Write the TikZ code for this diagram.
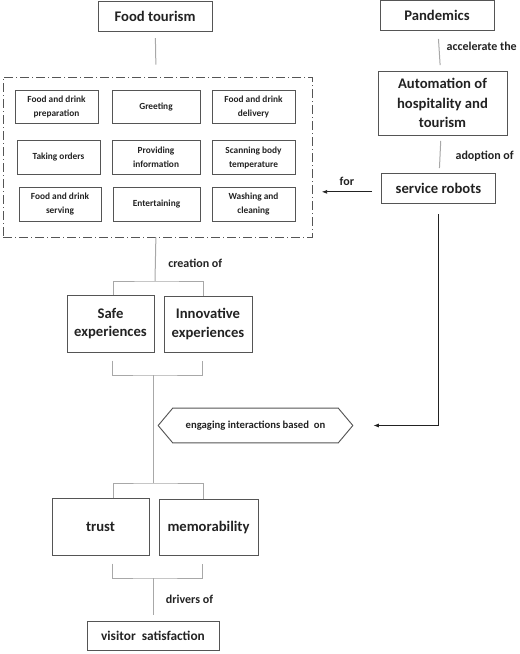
\documentclass[tikz,border=0pt]{standalone}
\usepackage{fontspec}
\setmainfont{Carlito}
\usetikzlibrary{positioning,calc,shapes.symbols,arrows.meta}

\definecolor{boxgray}{HTML}{555555}
\definecolor{linegray}{HTML}{A8A8A8}
\definecolor{txt}{HTML}{222222}

\begin{document}
\begin{tikzpicture}[x=0.75pt, y=-0.75pt,
  box/.style={draw=boxgray, line width=0.75pt, text=txt, font=\bfseries\fontsize{11}{14}\selectfont, align=center, inner sep=1pt},
  task/.style={draw=boxgray, line width=0.6pt, text=txt, font=\bfseries\fontsize{7}{10.5}\selectfont, align=center, inner sep=1pt, minimum height=25pt},
  link/.style={draw=linegray, line width=0.75pt},
  lab/.style={text=txt, font=\bfseries\fontsize{9}{11}\selectfont},
  arr/.style={draw=txt, line width=0.6pt, -{Latex[length=4pt,width=3pt]}}]

  \useasboundingbox (0,0) rectangle (520,654);

  % top row
  \node[box, minimum width=85.5pt, minimum height=22.5pt] (food) at (155,16) {Food tourism};
  \node[box, minimum width=85.5pt, minimum height=22.5pt] (pandemics) at (437,15.5) {Pandemics};
  \node[box, minimum width=96.75pt, minimum height=48pt, font=\bfseries\fontsize{11}{14.6}\selectfont] (automation) at (442.5,103) {Automation of\\hospitality and\\tourism};
  \node[box, minimum width=85pt, minimum height=22pt] (robots) at (438.5,188.5) {service robots};

  % service tasks
  \node[draw=boxgray, line width=0.7pt, dash pattern=on 7pt off 2pt on 1pt off 2pt, minimum width=231.75pt, minimum height=120pt] (tasks) at (157.5,157) {};
  \node[task, minimum width=62.25pt] (prep) at (56.5,107) {Food and drink\\preparation};
  \node[task, minimum width=66pt] (greet) at (156,107) {Greeting};
  \node[task, minimum width=62.25pt] (deliv) at (253.5,107) {Food and drink\\delivery};
  \node[task, minimum width=62.25pt] (orders) at (58.5,157.5) {Taking orders};
  \node[task, minimum width=66pt] (info) at (156,157.5) {Providing\\information};
  \node[task, minimum width=62.25pt] (temp) at (253.5,157.5) {Scanning body\\temperature};
  \node[task, minimum width=61.5pt] (serve) at (60,204.5) {Food and drink\\serving};
  \node[task, minimum width=65.25pt] (enter) at (156.5,204.5) {Entertaining};
  \node[task, minimum width=62.25pt] (wash) at (253.5,204.5) {Washing and\\cleaning};

  % experiences
  \node[box, minimum width=65.25pt, minimum height=42.75pt] (safe) at (110.5,323.5) {Safe\\experiences};
  \node[box, minimum width=66pt, minimum height=42pt] (innov) at (208,324) {Innovative\\experiences};

  \node[signal, signal to=west and east, signal pointer angle=100, draw=boxgray, line width=0.7pt, text=txt, font=\bfseries\fontsize{8}{10}\selectfont, minimum width=146pt, minimum height=26pt, inner sep=1pt] (engage) at (255.5,425.5) {engaging interactions based\ \ on};

  \node[box, minimum width=72.75pt, minimum height=42.75pt] (trust) at (100.5,526.5) {trust};
  \node[box, minimum width=74.25pt, minimum height=42pt] (memo) at (208.5,527) {memorability};
  \node[box, minimum width=99pt, minimum height=21.75pt, font=\bfseries\fontsize{10}{12}\selectfont] (visitor) at (153,635.5) {visitor\ \ satisfaction};

  % junctions
  \coordinate (j1) at (155,281);
  \coordinate (j2) at (153,375);
  \coordinate (j3) at (153,483);
  \coordinate (j4) at (153,578);

  % connectors
  \draw[link, shorten <=5pt, shorten >=9pt] (food) -- (tasks);
  \draw[link, shorten <=6pt, shorten >=4pt] (pandemics) -- node[lab, right=2pt, pos=0.4] {accelerate the} (automation);
  \draw[link, shorten <=4pt, shorten >=4pt] (automation) -- node[lab, right=8pt, pos=0.55] {adoption of} (robots);
  \draw[arr, shorten <=7pt, shorten >=7pt] ([yshift=-2.5pt]robots.west) -- node[lab, above=1pt] {for} ([yshift=-2.5pt]robots.west -| tasks.east);
  \draw[arr, shorten <=8pt, shorten >=15pt] (robots) |- (engage.east);

  \draw[link] (tasks) -- node[lab, right=6pt, pos=0.6] {creation of} (j1);
  \draw[link] ($(safe.north)+(2.5,0)$) |- (j1) -| ($(innov.north)+(-5,0)$);
  \draw[link, shorten <=6pt, shorten >=6pt] ($(safe.south)+(1.5,0)$) |- (j2) -| ($(innov.south)+(-6,0)$);
  \draw[link] (j2) -- (j3);
  \draw[link] ($(trust.north)+(12.5,0)$) |- (j3) -| ($(memo.north)+(-5.5,0)$);
  \draw[link, shorten <=6pt, shorten >=6pt] ($(trust.south)+(11.5,0)$) |- (j4) -| ($(memo.south)+(-6.5,0)$);
  \draw[link, shorten >=4pt] (j4) -- node[lab, right=6pt] {drivers of} (visitor);

\end{tikzpicture}
\end{document}
